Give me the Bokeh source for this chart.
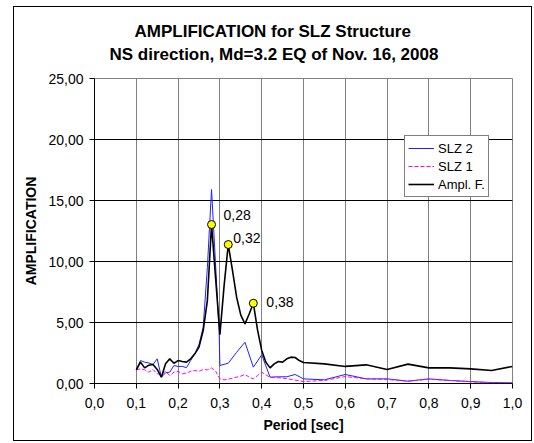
from bokeh.plotting import figure
from bokeh.models import Range1d, Legend, LegendItem, Label, Title, CustomJSTickFormatter, FixedTicker
from bokeh.embed import file_html
from bokeh.resources import INLINE

# ---------------- data ----------------
title_lines = ["AMPLIFICATION  for SLZ Structure", "NS direction, Md=3.2 EQ of Nov. 16, 2008"]
x_label = "Period [sec]"
y_label = "AMPLIFICATION"
series_names = ["SLZ 2", "SLZ 1", "Ampl. F."]

period_slz2 = [0.10, 0.11, 0.12, 0.13, 0.14, 0.15, 0.16, 0.17, 0.18, 0.19, 0.20, 0.21, 0.22, 0.23,
               0.24, 0.25, 0.26, 0.27, 0.28, 0.298, 0.30, 0.32, 0.34, 0.36, 0.38, 0.40, 0.42, 0.44,
               0.46, 0.48, 0.50, 0.55, 0.60, 0.65, 0.70, 0.75, 0.80, 0.85, 0.90, 0.95, 1.00]
amp_slz2 = [1.12, 1.88, 1.75, 1.68, 1.56, 2.02, 0.52, 0.88, 0.93, 1.47, 1.40, 1.40, 1.30, 1.88,
            2.43, 3.20, 4.60, 9.50, 15.90, 4.40, 1.48, 1.66, 2.56, 3.38, 1.34, 2.35, 0.52, 0.55,
            0.55, 0.74, 0.38, 0.30, 0.74, 0.38, 0.38, 0.19, 0.38, 0.25, 0.16, 0.08, 0.05]

period_slz1 = [0.10, 0.11, 0.12, 0.13, 0.14, 0.15, 0.16, 0.17, 0.18, 0.19, 0.20, 0.21, 0.22, 0.23,
               0.24, 0.25, 0.26, 0.27, 0.28, 0.29, 0.30, 0.31, 0.32, 0.33, 0.34, 0.35, 0.36, 0.37,
               0.38, 0.39, 0.40, 0.42, 0.45, 0.50, 0.55, 0.60, 0.65, 0.70, 0.75, 0.80, 0.85, 0.90,
               0.95, 1.00]
amp_slz1 = [1.12, 1.20, 1.12, 0.93, 1.15, 0.79, 0.74, 1.00, 0.65, 0.93, 1.00, 0.79, 0.85, 1.00,
            1.07, 1.00, 1.15, 1.12, 1.28, 1.00, 0.38, 0.30, 0.35, 0.44, 0.52, 0.60, 0.74, 0.52,
            0.38, 0.65, 0.93, 0.50, 0.45, 0.16, 0.25, 0.57, 0.38, 0.33, 0.19, 0.35, 0.25, 0.14,
            0.05, 0.05]

period_ampl = [0.10, 0.11, 0.12, 0.13, 0.14, 0.15, 0.16, 0.17, 0.18, 0.19, 0.20, 0.21, 0.22, 0.23,
               0.24, 0.25, 0.26, 0.27, 0.28, 0.29, 0.30, 0.31, 0.32, 0.33, 0.34, 0.35, 0.36, 0.37,
               0.38, 0.39, 0.40, 0.41, 0.42, 0.43, 0.44, 0.45, 0.46, 0.47, 0.48, 0.49, 0.50, 0.55,
               0.60, 0.65, 0.70, 0.75, 0.80, 0.85, 0.90, 0.95, 1.00]
amp_ampl = [1.12, 1.75, 1.28, 1.50, 1.56, 1.15, 0.52, 1.61, 2.02, 1.66, 1.88, 1.80, 1.75, 2.02,
            2.43, 2.98, 4.34, 6.80, 13.03, 8.50, 4.00, 8.00, 11.39, 9.30, 7.07, 5.60, 4.89, 5.70,
            6.58, 4.40, 2.71, 1.75, 1.28, 1.61, 1.80, 1.75, 2.02, 2.16, 2.13, 1.88, 1.72, 1.61,
            1.40, 1.53, 1.15, 1.59, 1.28, 1.28, 1.20, 1.07, 1.40]

peak_period = [0.28, 0.32, 0.38]
peak_amp = [13.03, 11.39, 6.58]
peak_labels = ["0,28", "0,32", "0,38"]

x_ticks = [0.0, 0.1, 0.2, 0.3, 0.4, 0.5, 0.6, 0.7, 0.8, 0.9, 1.0]
y_ticks = [0, 5, 10, 15, 20, 25]

FONT = "Liberation Sans"

# ---------------- figure ----------------
p = figure(width=519, height=435, output_backend="svg", toolbar_location=None, title=None,
           x_range=Range1d(0, 1), y_range=Range1d(0, 25),
           min_border_left=80, min_border_right=21, min_border_top=71, min_border_bottom=59,
           margin=(6, 0, 0, 13))
p.styles = {"border": "1px solid black"}
p.background_fill_color = "white"
p.border_fill_color = "white"
p.outline_line_color = "#808080"
p.outline_line_width = 1

# grids
p.xgrid.ticker = FixedTicker(ticks=x_ticks)
p.ygrid.ticker = FixedTicker(ticks=y_ticks)
p.xgrid.grid_line_color = "#808080"
p.ygrid.grid_line_color = "black"
p.xgrid.grid_line_width = 1
p.ygrid.grid_line_width = 1

# axes
for ax in (p.xaxis[0], p.yaxis[0]):
    ax.axis_line_color = "black"
    ax.major_tick_line_color = "black"
    ax.major_tick_out = 5
    ax.major_tick_in = 0
    ax.minor_tick_line_color = None
    ax.major_label_text_font = FONT
    ax.major_label_text_font_size = "14px"
    ax.major_label_text_color = "black"
    ax.axis_label_text_font = FONT
    ax.axis_label_text_font_size = "14px"
    ax.axis_label_text_font_style = "bold"
    ax.axis_label_text_color = "black"

p.xaxis.ticker = FixedTicker(ticks=x_ticks)
p.yaxis.ticker = FixedTicker(ticks=y_ticks)
p.xaxis.formatter = CustomJSTickFormatter(code="return tick.toFixed(1).replace('.', ',');")
p.yaxis.formatter = CustomJSTickFormatter(code="return tick.toFixed(2).replace('.', ',');")
p.xaxis.axis_label = x_label
p.yaxis.axis_label = y_label
p.xaxis.major_label_standoff = 9
p.yaxis.major_label_standoff = 6
p.xaxis.axis_label_standoff = 6
p.yaxis.axis_label_standoff = 6

# series
r2 = p.line(period_slz2, amp_slz2, line_color="#2020ff", line_width=1)
r1 = p.line(period_slz1, amp_slz1, line_color="#ff00ff", line_width=1, line_dash="4 2")
r0 = p.line(period_ampl, amp_ampl, line_color="black", line_width=1.6)
p.scatter(peak_period, peak_amp, size=8, fill_color="#ffff00", line_color="black", line_width=1)

offsets = [(12, 10), (5, 7), (13, 1)]
for xv, yv, txt, (dx, dy) in zip(peak_period, peak_amp, peak_labels, offsets):
    p.add_layout(Label(x=xv, y=yv, text=txt, x_offset=dx, y_offset=dy,
                       text_font=FONT, text_font_size="14px", text_color="black",
                       text_align="left", text_baseline="middle"))

legend = Legend(items=[LegendItem(label=series_names[0], renderers=[r2]),
                       LegendItem(label=series_names[1], renderers=[r1]),
                       LegendItem(label=series_names[2], renderers=[r0])],
                location=(310, 186))
legend.label_text_font = FONT
legend.label_text_font_size = "13px"
legend.label_text_color = "black"
legend.glyph_width = 26
legend.glyph_height = 18
legend.label_height = 18
legend.label_standoff = 4
legend.spacing = 0
legend.padding = 3
legend.margin = 0
legend.border_line_color = "black"
legend.border_line_width = 1
legend.background_fill_color = "white"
legend.background_fill_alpha = 1
p.add_layout(legend, "center")

# two-line title: a blank spacer next to the plot, then line 2, then line 1
spacer = Title(text=" ", standoff=1, text_font=FONT, text_font_size="8px")
t2 = Title(text=title_lines[1], align="left", offset=15, standoff=5, vertical_align="bottom",
           text_font=FONT, text_font_size="17px", text_font_style="bold", text_color="black")
t1 = Title(text=title_lines[0], align="left", offset=40, standoff=0, vertical_align="bottom",
           text_font=FONT, text_font_size="17px", text_font_style="bold", text_color="black")
p.add_layout(spacer, "above")
p.add_layout(t2, "above")
p.add_layout(t1, "above")

open("out.html", "w").write(file_html(p, INLINE))
